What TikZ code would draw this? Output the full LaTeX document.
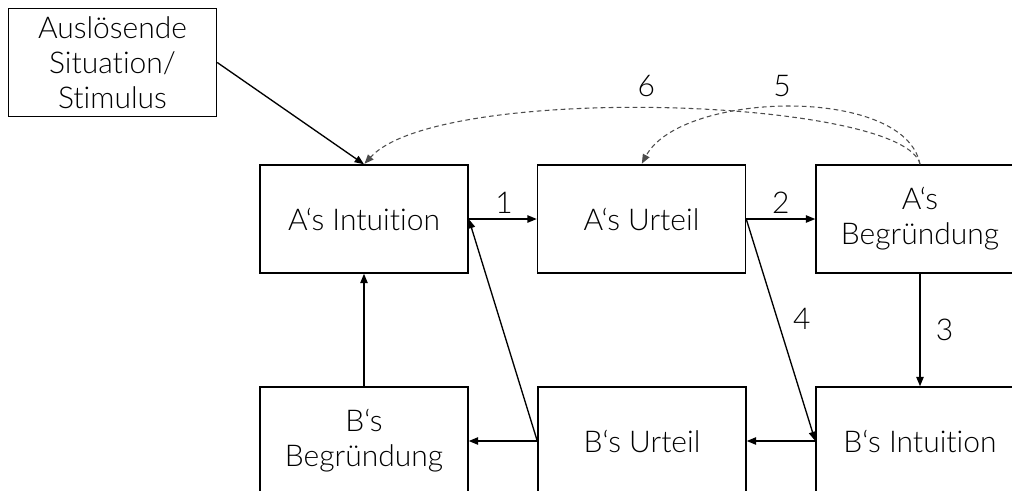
\documentclass[tikz,border=0pt]{standalone}
\usepackage{fontspec}
\IfFontExistsTF{Lato Light}{\setmainfont{Lato Light}[Ligatures=NoCommon]}{\setmainfont{Lato}[Ligatures=NoCommon]}
\usetikzlibrary{arrows.meta}
\begin{document}
\begin{tikzpicture}[x=0.75pt,y=-0.75pt,
  box/.style={draw=black,line width=1.1pt,minimum width=156pt,minimum height=81pt,
    align=center,inner sep=2pt,font=\fontsize{22.5}{26.25}\selectfont,text=black},
  conn/.style={line width=1pt,-{Triangle[length=7pt,width=5.5pt]}},
  fb/.style={line width=0.8pt,draw=black!70,dash pattern=on 3.5pt off 2.5pt,
    -{Triangle[length=7pt,width=5.5pt]},shorten >=0.5pt},
  lbl/.style={font=\fontsize{22.5}{26}\selectfont,text=black}]
\useasboundingbox (0,0) rectangle (1012,490);
\clip (0,0) rectangle (1012,490);
\node[box] (stim) at (112.5,62.5) {Auslösende\\Situation/\\Stimulus};
\node[box] (AI) at (364,219) {A‘s Intuition};
\node[box] (AU) at (641.5,219) {A‘s Urteil};
\node[box] (AB) at (920,219) {A‘s\\Begründung};
\node[box] (BB) at (364,441) {B‘s\\Begründung};
\node[box] (BU) at (642,441) {B‘s Urteil};
\node[box] (BI) at (920,441) {B‘s Intuition};
\draw[conn] (stim.east) -- (AI.north);
\draw[conn] (AI.east) -- node[lbl,above=0pt,xshift=1pt] {1} (AU.west);
\draw[conn] (AU.east) -- node[lbl,above=0pt] {2} (AB.west);
\draw[conn] (AB.south) -- node[lbl,right=8pt] {3} (BI.north);
\draw[conn] (AU.east) -- node[lbl,right=8pt,pos=0.45] {4} (BI.west);
\draw[conn] (BI.west) -- (BU.east);
\draw[conn] (BU.west) -- (BB.east);
\draw[conn] (BU.west) -- (AI.east);
\draw[conn] (BB.north) -- (AI.south);
\draw[fb] (AB.north) .. controls (905,98) and (440,82) .. node[lbl,pos=0.5,above=5pt,xshift=-14pt] {6} (AI.north);
\draw[fb] (AB.north) .. controls (905,85) and (681,91) .. node[lbl,pos=0.5,above=4pt,xshift=-6pt] {5} (AU.north);
\end{tikzpicture}
\end{document}
